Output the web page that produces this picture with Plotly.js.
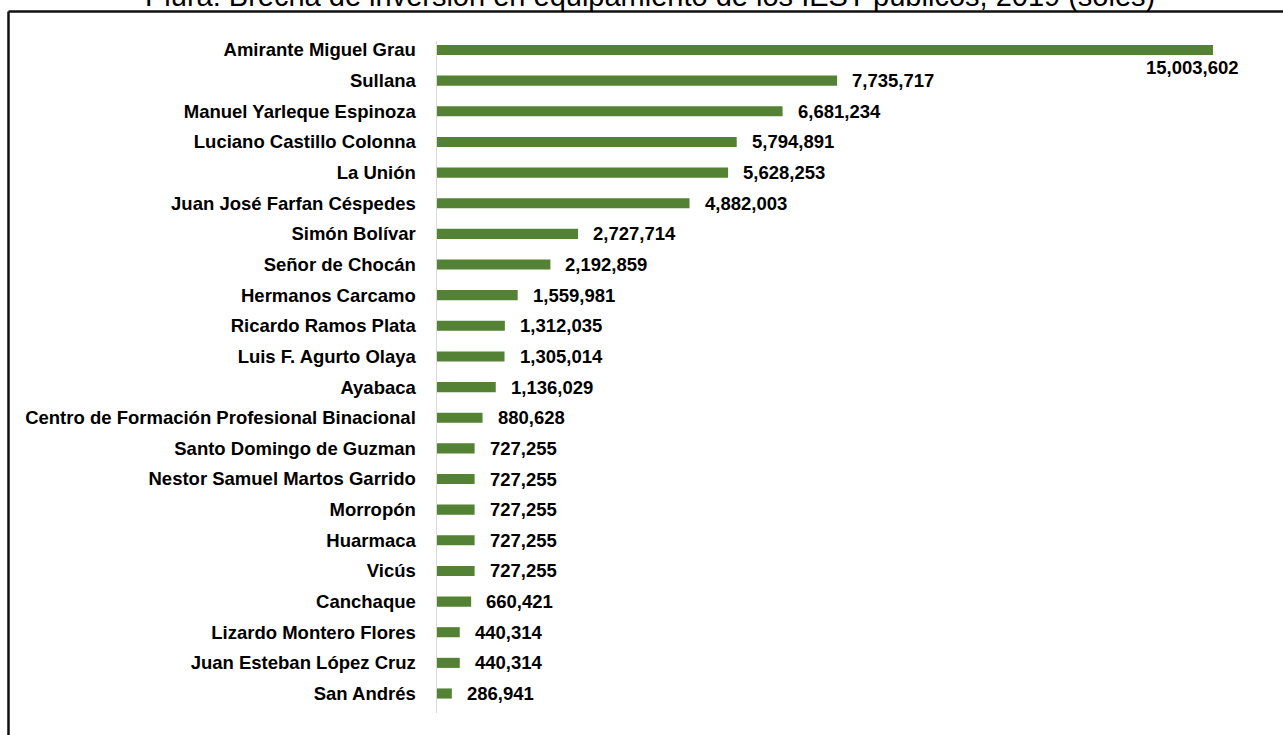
<!DOCTYPE html>
<html>
<head>
<meta charset="utf-8">
<script src="https://cdn.plot.ly/plotly-3.0.1.min.js"></script>
<style>html,body{margin:0;padding:0;background:#fff;}#chart{width:1283px;height:735px;}</style>
</head>
<body>
<div id="chart"></div>
<script>
const categories = [
  "Amirante Miguel Grau",
  "Sullana",
  "Manuel Yarleque Espinoza",
  "Luciano Castillo Colonna",
  "La Unión",
  "Juan José Farfan Céspedes",
  "Simón Bolívar",
  "Señor de Chocán",
  "Hermanos Carcamo",
  "Ricardo Ramos Plata",
  "Luis F. Agurto Olaya",
  "Ayabaca",
  "Centro de Formación Profesional Binacional",
  "Santo Domingo de Guzman",
  "Nestor Samuel Martos Garrido",
  "Morropón",
  "Huarmaca",
  "Vicús",
  "Canchaque",
  "Lizardo Montero Flores",
  "Juan Esteban López Cruz",
  "San Andrés"
];
const values = [
  15003602, 7735717, 6681234, 5794891, 5628253, 4882003, 2727714, 2192859,
  1559981, 1312035, 1305014, 1136029, 880628, 727255, 727255, 727255,
  727255, 727255, 660421, 440314, 440314, 286941
];
const titleText = "Piura: Brecha de inversión en equipamiento de los IEST públicos, 2019 (soles)";

const fmt = v => v.toLocaleString('en-US');
const maxV = Math.max(...values);
const FONT = 'Liberation Sans, Arial, sans-serif';

const trace = {
  type: 'bar',
  orientation: 'h',
  x: values,
  y: categories,
  width: 0.33,
  marker: {color: '#548235'},
  hoverinfo: 'x+y'
};

const annotations = values.map((v, i) => {
  if (v === maxV) {
    return {x: v, y: categories[i], xref: 'x', yref: 'y', text: '<b>' + fmt(v) + '</b>',
      showarrow: false, xanchor: 'center', yanchor: 'middle', xshift: -21, yshift: -17,
      font: {family: FONT, size: 18.5, color: '#000'}};
  }
  return {x: v, y: categories[i], xref: 'x', yref: 'y', text: '<b>' + fmt(v) + '</b>',
    showarrow: false, xanchor: 'left', yanchor: 'middle', xshift: 13, yshift: 0,
    font: {family: FONT, size: 18.5, color: '#000'}};
});

// Chart title, placed partly above the top edge as in the reference
annotations.push({
  text: titleText, xref: 'paper', yref: 'paper', x: 0.2745, y: 1.0402,
  xanchor: 'center', yanchor: 'bottom', showarrow: false,
  font: {family: FONT, size: 29, color: '#000'}
});

const layout = {
  width: 1283, height: 735,
  paper_bgcolor: '#fff', plot_bgcolor: '#fff',
  margin: {l: 437, r: 70, t: 41, b: 22},
  showlegend: false,
  xaxis: {range: [0, maxV], visible: false, showgrid: false, zeroline: false, fixedrange: true},
  yaxis: {type: 'category', range: [21.636, -0.294], showline: true, linecolor: '#d9d9d9', linewidth: 1.5,
    ticks: '', ticklabelstandoff: 16, showgrid: false, zeroline: false,
    tickfont: {family: FONT, size: 18.5, color: '#000', weight: 'bold'}},
  annotations: annotations,
  shapes: [
    {type: 'line', xref: 'paper', yref: 'paper', x0: -0.5522, x1: 1.2, y0: 1.0439, y1: 1.0439,
      line: {color: '#111', width: 2.5}},
    {type: 'line', xref: 'paper', yref: 'paper', x0: -0.5522, x1: -0.5522, y0: 1.0439, y1: -0.1,
      line: {color: '#111', width: 2.5}}
  ]
};

Plotly.newPlot('chart', [trace], layout, {displayModeBar: false, staticPlot: true});
</script>
</body>
</html>
